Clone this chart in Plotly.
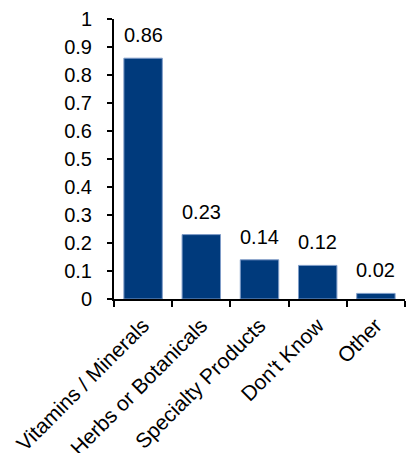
import plotly.graph_objects as go

categories = ["Vitamins / Minerals", "Herbs or Botanicals", "Specialty Products", "Don't Know", "Other"]
values = [0.86, 0.23, 0.14, 0.12, 0.02]
y_ticks = [0, 0.1, 0.2, 0.3, 0.4, 0.5, 0.6, 0.7, 0.8, 0.9, 1]
y_tick_labels = ["0", "0.1", "0.2", "0.3", "0.4", "0.5", "0.6", "0.7", "0.8", "0.9", "1"]

FONT = "Liberation Sans, Arial, sans-serif"
FS = 20

fig = go.Figure()
fig.add_trace(go.Bar(
    x=categories, y=values,
    marker=dict(color="#003A7C", line=dict(color="#7F9CC8", width=1)),
    width=0.66,
))

for c, v in zip(categories, values):
    fig.add_annotation(x=c, y=v, text=f"{v:.2f}", showarrow=False,
                       yanchor="bottom", yshift=10,
                       font=dict(family=FONT, size=FS, color="black"))

fig.update_layout(
    width=409, height=453,
    margin=dict(l=114, r=4, t=19, b=154),
    plot_bgcolor="white", paper_bgcolor="white",
    showlegend=False,
    font=dict(family=FONT, size=FS, color="black"),
)
fig.update_yaxes(
    range=[0, 1], tickvals=y_ticks, ticktext=y_tick_labels,
    showline=True, linecolor="black", linewidth=2,
    ticks="outside", ticklen=5, tickwidth=1.5, tickcolor="black",
    ticklabelstandoff=11,
    showgrid=False, zeroline=False, automargin=False,
    tickfont=dict(family=FONT, size=FS, color="black"),
)
fig.update_xaxes(
    showline=True, linecolor="black", linewidth=2,
    ticks="outside", ticklen=6, tickwidth=1.5, tickcolor="black",
    tickson="boundaries", tickangle=-45, automargin=False,
    ticklabelstandoff=4,
    showgrid=False,
    tickfont=dict(family=FONT, size=21, color="black"),
)

fig.write_html("out.html", config={"displayModeBar": False},
               post_script="document.body.style.margin='0px';document.body.style.overflow='hidden';")
